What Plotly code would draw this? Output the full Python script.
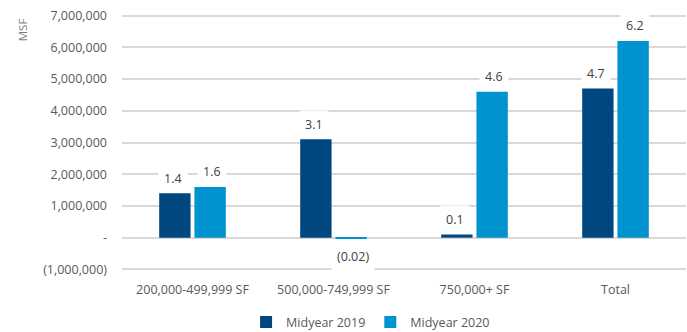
import plotly.graph_objects as go

categories = ["200,000-499,999 SF", "500,000-749,999 SF", "750,000+ SF", "Total"]
midyear_2019_msf = [1.4, 3.1, 0.1, 4.7]
midyear_2020_msf = [1.6, -0.02, 4.6, 6.2]
label_2019 = ["1.4", "3.1", "0.1", "4.7"]
label_2020 = ["1.6", "(0.02)", "4.6", "6.2"]
tick_values = [-1e6, 0, 1e6, 2e6, 3e6, 4e6, 5e6, 6e6, 7e6]
tick_labels = ["(1,000,000)", "-", "1,000,000", "2,000,000", "3,000,000",
               "4,000,000", "5,000,000", "6,000,000", "7,000,000"]

DARK = "#00467f"
LIGHT = "#0093d0"
FONT = "Open Sans"
TEXT = "#595959"

y2019 = [v * 1e6 for v in midyear_2019_msf]
y2020 = [v * 1e6 for v in midyear_2020_msf]

fig = go.Figure()
fig.add_trace(go.Bar(x=categories, y=y2019, name="Midyear 2019",
                     marker=dict(color=DARK, line=dict(width=0))))
fig.add_trace(go.Bar(x=categories, y=y2020, name="Midyear 2020",
                     marker=dict(color=LIGHT, line=dict(width=0))))

annotations = []
for series, labels, shift in ((y2019, label_2019, -19.7), (y2020, label_2020, 19.7)):
    for cat, val, lab in zip(categories, series, labels):
        annotations.append(dict(
            x=cat, y=val, xref="x", yref="y", text=lab, showarrow=False,
            xshift=shift, yshift=15 if val >= 0 else -18,
            font=dict(family=FONT, size=12.5, color="#404040"),
            bgcolor="white", borderpad=5,
        ))
annotations.append(dict(
    x=-0.177, y=0.99, xref="paper", yref="paper", text="MSF", showarrow=False,
    textangle=-90, xanchor="center", yanchor="top",
    font=dict(family=FONT, size=11.5, color="#7f7f7f"),
))

fig.update_layout(
    width=687, height=332,
    margin=dict(l=122, r=1, t=14.4, b=61.4, autoexpand=False),
    paper_bgcolor="white", plot_bgcolor="white",
    barmode="group", bargap=0.5, bargroupgap=0.11,
    font=dict(family=FONT, size=12.5, color=TEXT),
    showlegend=True,
    legend=dict(orientation="h", x=0.22, xanchor="left", y=-0.2, yanchor="middle",
                font=dict(family=FONT, size=12.5, color=TEXT),
                itemwidth=30, tracegroupgap=0),
    annotations=annotations,
)
fig.update_xaxes(showgrid=False, showline=False, zeroline=False, ticks="",
                 tickfont=dict(family=FONT, size=12.5, color=TEXT),
                 ticklabelstandoff=9)
fig.update_yaxes(range=[-1.05e6, 7.05e6], tickvals=tick_values, ticktext=tick_labels,
                 showgrid=True, gridcolor="#d9d9d9", gridwidth=1.5,
                 zeroline=True, zerolinecolor="#d9d9d9", zerolinewidth=1.5,
                 showline=False, ticks="", ticklabelstandoff=14,
                 tickfont=dict(family=FONT, size=12.5, color=TEXT))

fig.write_html("out.html")
